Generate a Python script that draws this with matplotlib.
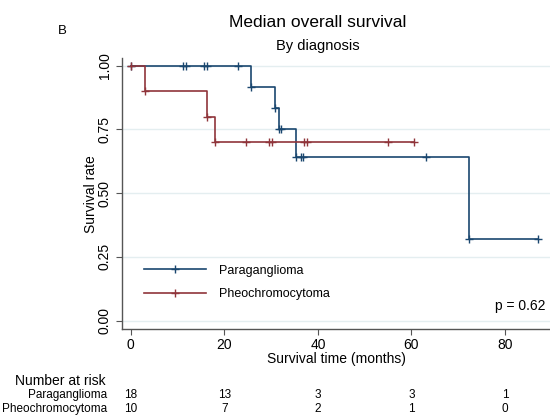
import matplotlib
matplotlib.use("Agg")
import matplotlib.pyplot as plt
import numpy as np

plt.rcParams['font.family'] = ['Liberation Sans', 'DejaVu Sans']

# Kaplan-Meier steps (months, survival)
para_t = [0, 25.7, 30.8, 31.7, 35.3, 72.3, 87.0]
para_s = [1.0, 0.917, 0.833, 0.75, 0.643, 0.321, 0.321]
para_cens = [0, 11.2, 11.8, 15.7, 16.4, 22.9, 25.7, 30.8, 31.7, 32.2,
             35.3, 36.4, 36.8, 63.1, 72.3, 87.0]

pheo_t = [0, 3.0, 16.3, 18.1, 60.5]
pheo_s = [1.0, 0.9, 0.8, 0.7, 0.7]
pheo_cens = [0, 3.0, 16.3, 18.1, 24.6, 29.6, 30.2, 37.0, 37.6, 55.0, 60.5]

risk_times = [0, 20, 40, 60, 80]
risk_para = [18, 13, 3, 3, 1]
risk_pheo = [10, 7, 2, 1, 0]

blue = '#1a476f'
red = '#90353b'


def surv_at(times, steps, surv):
    idx = np.searchsorted(steps, times, side='right') - 1
    return np.asarray(surv)[idx]


fig = plt.figure(figsize=(5.5, 4.17), dpi=100)
ax = fig.add_axes([0.2218, 0.2103, 0.7782, 0.6507])

for t, s, c, col, lab in [(para_t, para_s, para_cens, blue, 'Paraganglioma'),
                          (pheo_t, pheo_s, pheo_cens, red, 'Pheochromocytoma')]:
    ax.step(t, s, where='post', color=col, lw=1.2, zorder=3)
    ax.plot(c, surv_at(c, t, s), ls='none', marker='+', ms=6, mew=1.0,
            color=col, zorder=4)
    ax.plot([], [], color=col, lw=1.2, marker='+', ms=6, mew=1.0, label=lab)

ax.set_xlim(-1.86, 89.6)
ax.set_ylim(-0.034, 1.03)
ax.set_xticks(risk_times)
ax.set_yticks([0, 0.25, 0.5, 0.75, 1.0])
ax.set_yticklabels(['0.00', '0.25', '0.50', '0.75', '1.00'], rotation=90,
                   va='center')
ax.tick_params(labelsize=10, color='#555555', length=4)
ax.tick_params(axis='x', pad=2)
ax.grid(axis='y', color='#e4eef0', lw=1)
ax.set_axisbelow(True)
for sp in ['top', 'right']:
    ax.spines[sp].set_visible(False)
for sp in ['left', 'bottom']:
    ax.spines[sp].set_color('#555555')
    ax.spines[sp].set_linewidth(1.0)

ax.set_ylabel('Survival rate', fontsize=10, labelpad=0)
ax.set_xlabel('Survival time (months)', fontsize=10, labelpad=0)

leg = ax.legend(loc='lower left', bbox_to_anchor=(0.025, 0.065), frameon=False,
                fontsize=9, handlelength=5.0, handletextpad=1.0,
                labelspacing=0.95)

ax.text(0.99, 0.086, 'p = 0.62', transform=ax.transAxes, ha='right',
        va='center', fontsize=10)

fig.text(0.578, 0.945, 'Median overall survival', ha='center', va='center',
         fontsize=12.5)
fig.text(0.578, 0.89, 'By diagnosis', ha='center', va='center', fontsize=10.5)
fig.text(0.113, 0.925, 'B', ha='center', va='center', fontsize=9.5)

# number at risk table
fig.text(0.027, 0.087, 'Number at risk', ha='left', va='center', fontsize=10)
for y, lab, vals in [(0.052, 'Paraganglioma', risk_para),
                     (0.019, 'Pheochromocytoma', risk_pheo)]:
    fig.text(0.195, y, lab, ha='right', va='center', fontsize=8.5)
    for t, v in zip(risk_times, vals):
        xf = fig.transFigure.inverted().transform(ax.transData.transform((t, 0)))[0]
        fig.text(xf, y, str(v), ha='center', va='center', fontsize=8.5)

fig.savefig('out.png', dpi=100)
